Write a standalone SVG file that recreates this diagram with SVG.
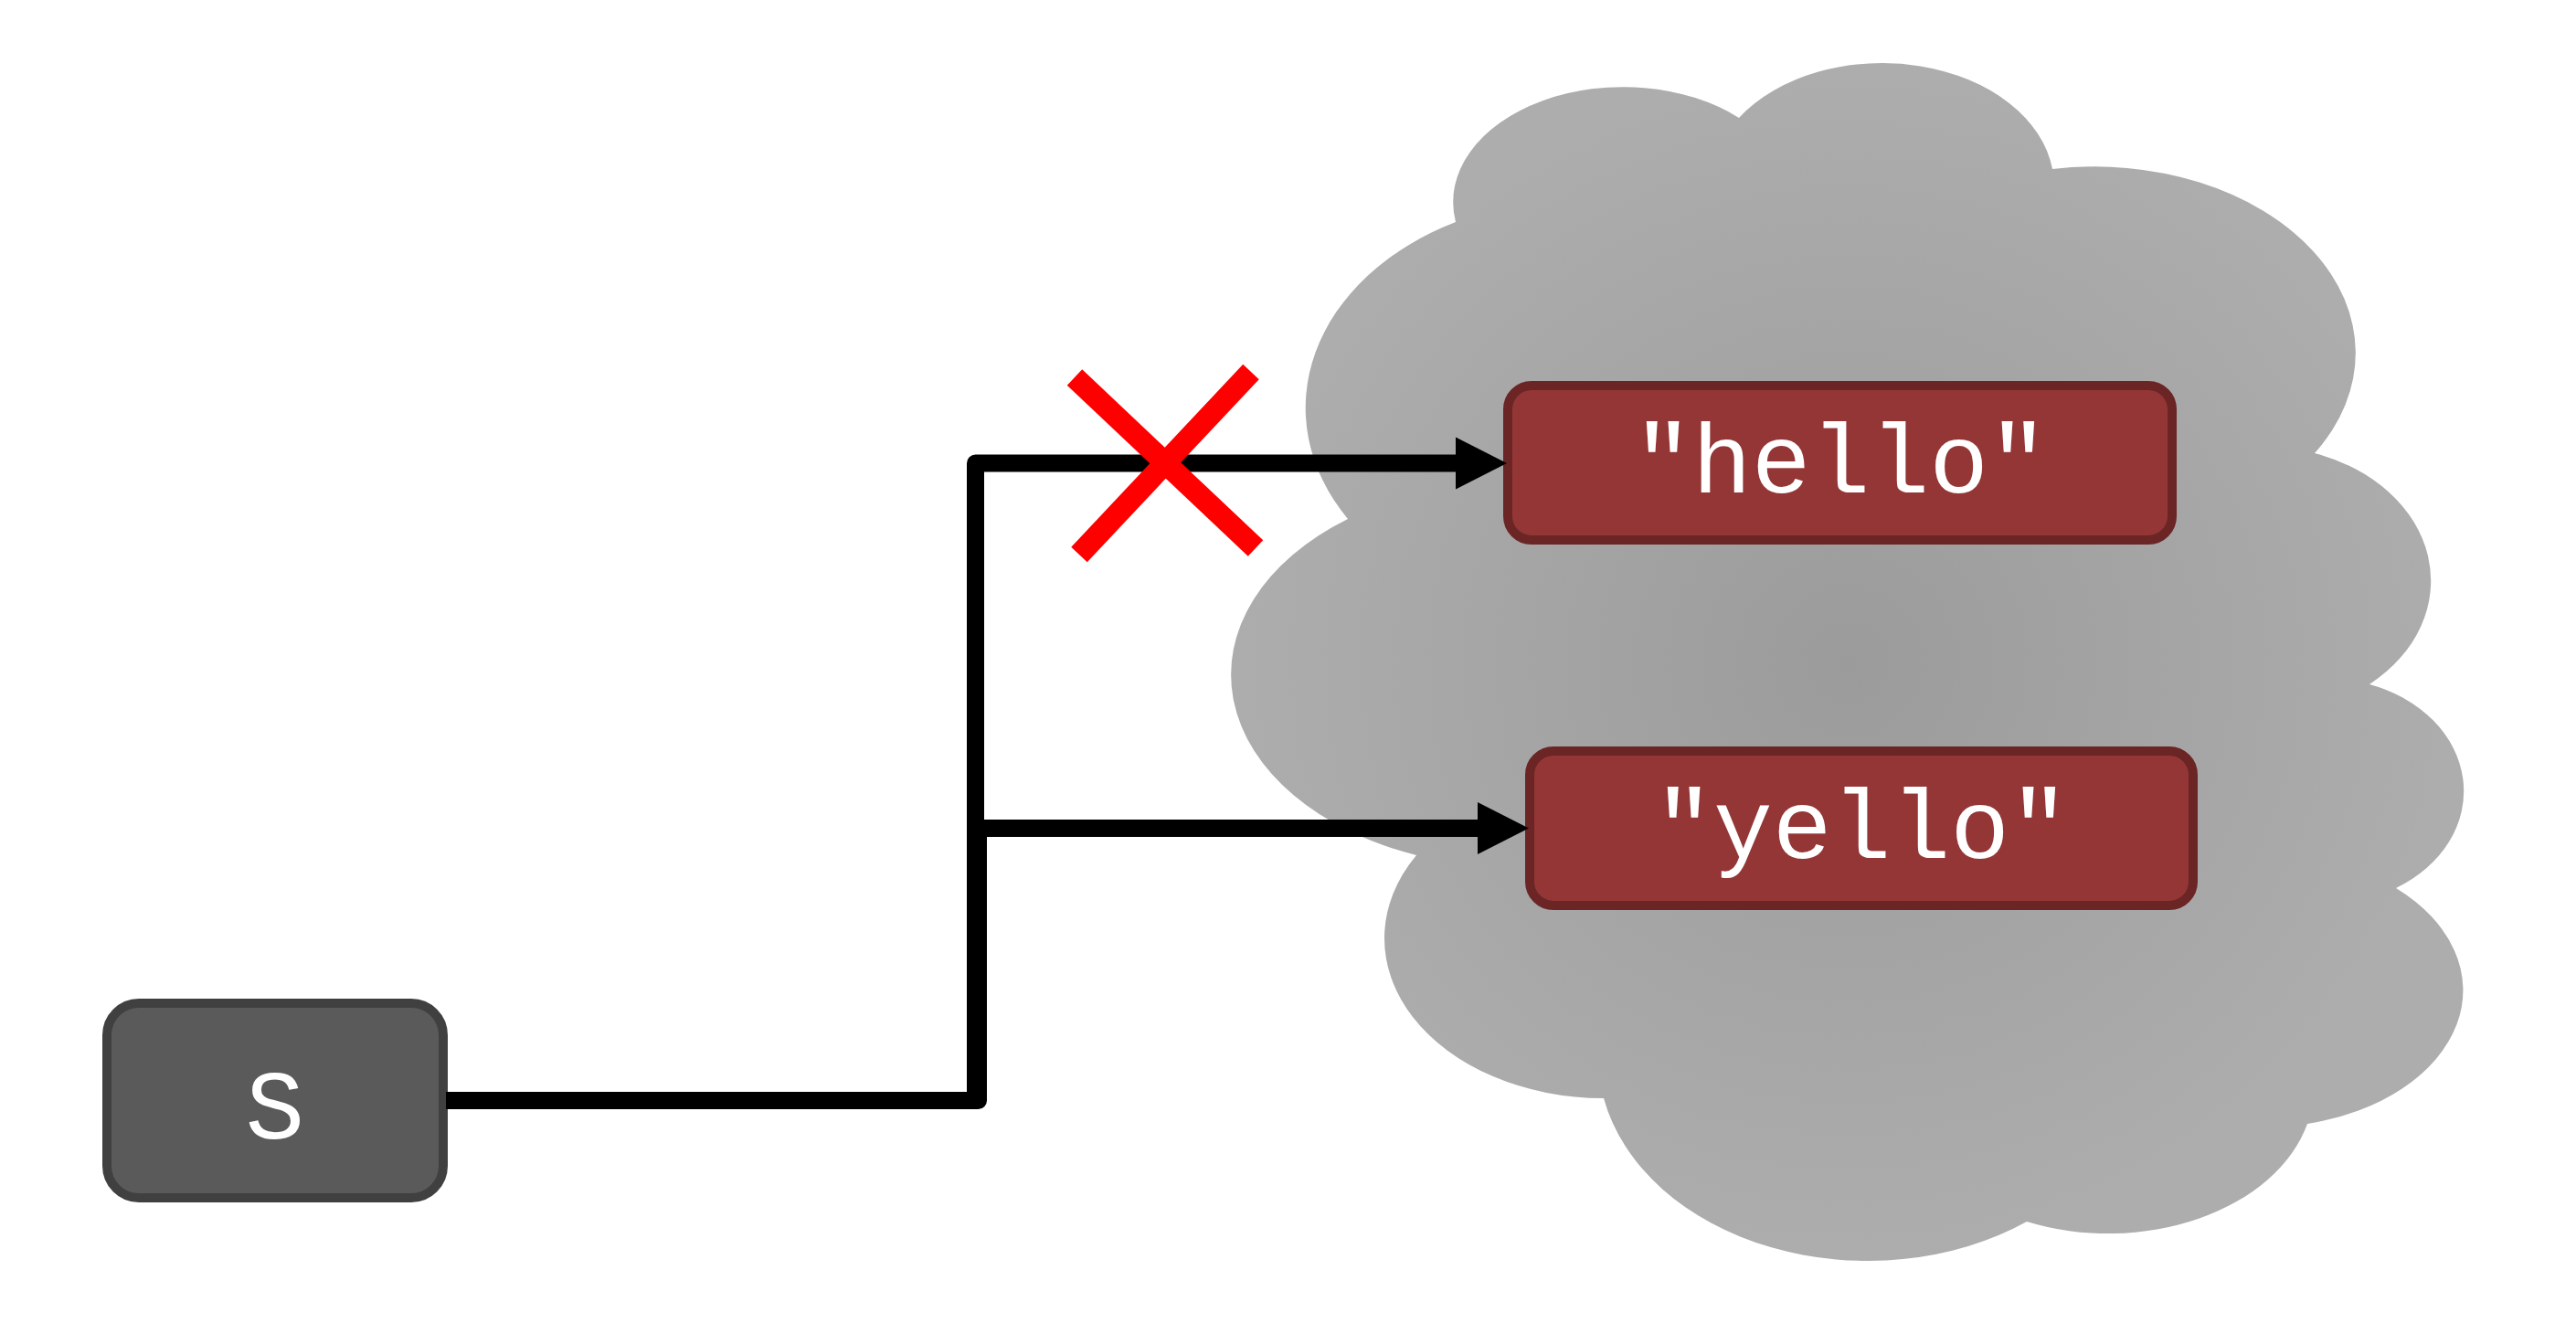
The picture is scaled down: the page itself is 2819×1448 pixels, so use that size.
<svg xmlns="http://www.w3.org/2000/svg" width="2819" height="1448" viewBox="0 0 2819 1448">
  <style>
    .str { fill: #943636; stroke: #6b2525; stroke-width: 10; }
    .var { fill: #5a5a5a; stroke: #404040; stroke-width: 10; }
    .lbl { font-family: "Liberation Mono", "Courier New", monospace; font-size: 108px; fill: #ffffff; text-anchor: middle; }
    .edge { fill: none; stroke: #000000; stroke-width: 19; stroke-linejoin: round; stroke-linecap: butt; }
    .cross { stroke: #ff0000; stroke-width: 24; stroke-linecap: butt; }
  </style>
  <defs>
    <radialGradient id="cloudGrad" cx="0.5" cy="0.5" r="0.5">
      <stop offset="0" stop-color="#9b9b9b"/>
      <stop offset="1" stop-color="#adadad"/>
    </radialGradient>
    <marker id="arrow" markerUnits="userSpaceOnUse" markerWidth="58" markerHeight="58" refX="0" refY="28.5" orient="auto" overflow="visible">
      <path d="M0,0 L56,28.5 L0,57 Z" fill="#000000"/>
    </marker>
  </defs>
  <rect width="2819" height="1448" fill="#ffffff"/>
  <g id="cloud">
    <path fill="url(#cloudGrad)" d="M1593,243 A186,126 0 0 1 1903,129 A188,134 0 0 1 2246,185 A286,204 0 0 1 2533,496 A185,147 0 0 1 2593,749 A150,123 0 0 1 2622,972 A220,150 0 0 1 2525,1230 A225,160 0 0 1 2218,1337 A295,223 0 0 1 1755,1202 A240,175 0 0 1 1550,936 A312,211 0 0 1 1475,568 A300,228 0 0 1 1593,243 Z"/>
  </g>
  <g id="node-s">
    <rect class="var" x="117" y="1098" width="368" height="213" rx="35" ry="35"/>
    <text class="lbl" x="301" y="1246">S</text>
  </g>
  <g id="node-hello">
    <rect class="str" x="1650" y="422" width="727" height="169" rx="26" ry="26"/>
    <text class="lbl" x="2014" y="539">"hello"</text>
  </g>
  <g id="node-yello">
    <rect class="str" x="1674" y="822" width="726" height="169" rx="26" ry="26"/>
    <text class="lbl" x="2037" y="939">"yello"</text>
  </g>
  <g id="connectors">
    <path class="edge" d="M488,1204.5 H1067.5 V507 H1593" marker-end="url(#arrow)"/>
    <path class="edge" d="M488,1204.5 H1070.5 V906.5 H1617" marker-end="url(#arrow)"/>
  </g>
  <g id="cross">
    <line class="cross" x1="1176" y1="413" x2="1374" y2="600"/>
    <line class="cross" x1="1369" y1="407" x2="1181" y2="607"/>
  </g>
</svg>
